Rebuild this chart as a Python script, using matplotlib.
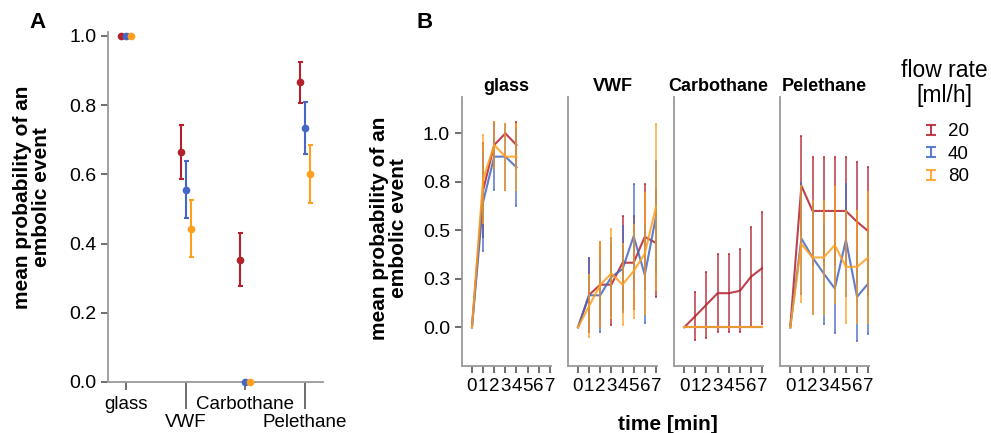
#!/usr/bin/env python3
"""
Embolic event probability by surface material and flow rate.
Panel A: overall mean per material, panel B: time course per material.
"""

import matplotlib
matplotlib.use('Agg')
import matplotlib.pyplot as plt
import numpy as np
from matplotlib.collections import LineCollection
from matplotlib.container import ErrorbarContainer
from matplotlib.legend_handler import HandlerErrorbar
from matplotlib.lines import Line2D

plt.rcParams['font.family'] = ['Liberation Sans', 'DejaVu Sans']

MATERIALS = ['glass', 'VWF', 'Carbothane', 'Pelethane']
FLOW_RATES = ['20', '40', '80']
COLORS = ['#B3212C', '#4466C4', '#FF9F1C']

# Panel A: mean probability and error bar half-width per material
A_MEAN_20 = [1.0, 0.664, 0.353, 0.866]
A_ERR_20 = [0.0, 0.079, 0.077, 0.059]
A_MEAN_40 = [1.0, 0.555, 0.0, 0.733]
A_ERR_40 = [0.0, 0.082, 0.0, 0.075]
A_MEAN_80 = [1.0, 0.443, 0.0, 0.600]
A_ERR_80 = [0.0, 0.083, 0.0, 0.084]

# Panel B: time course, minutes 0..7 (glass only measured to minute 4)
TIMES = [0, 1, 2, 3, 4, 5, 6, 7]

GLASS_MEAN_20 = [0.0, 0.706, 0.94, 1.0, 0.94]
GLASS_ERR_20 = [0.0, 0.242, 0.12, 0.0, 0.12]
GLASS_MEAN_40 = [0.0, 0.646, 0.88, 0.88, 0.825]
GLASS_ERR_40 = [0.0, 0.251, 0.17, 0.17, 0.20]
GLASS_MEAN_80 = [0.0, 0.763, 0.94, 0.88, 0.88]
GLASS_ERR_80 = [0.0, 0.227, 0.12, 0.17, 0.17]

VWF_MEAN_20 = [0.0, 0.167, 0.22, 0.22, 0.333, 0.333, 0.467, 0.435]
VWF_ERR_20 = [0.0, 0.19, 0.22, 0.21, 0.24, 0.24, 0.27, 0.28]
VWF_MEAN_40 = [0.0, 0.165, 0.165, 0.26, 0.30, 0.47, 0.27, 0.57]
VWF_ERR_40 = [0.0, 0.19, 0.19, 0.20, 0.22, 0.27, 0.25, 0.29]
VWF_MEAN_80 = [0.0, 0.11, 0.22, 0.277, 0.22, 0.29, 0.38, 0.62]
VWF_ERR_80 = [0.0, 0.16, 0.22, 0.23, 0.21, 0.24, 0.31, 0.43]

CARBO_MEAN_20 = [0.0, 0.058, 0.117, 0.176, 0.176, 0.188, 0.261, 0.305]
CARBO_ERR_20 = [0.0, 0.126, 0.17, 0.20, 0.20, 0.214, 0.258, 0.29]
CARBO_MEAN_40 = [0.0, 0.0, 0.0, 0.0, 0.0, 0.0, 0.0, 0.0]
CARBO_ERR_40 = [0.0, 0.0, 0.0, 0.0, 0.0, 0.0, 0.0, 0.0]
CARBO_MEAN_80 = [0.0, 0.0, 0.0, 0.0, 0.0, 0.0, 0.0, 0.0]
CARBO_ERR_80 = [0.0, 0.0, 0.0, 0.0, 0.0, 0.0, 0.0, 0.0]

PELE_MEAN_20 = [0.0, 0.73, 0.60, 0.60, 0.60, 0.60, 0.544, 0.496]
PELE_ERR_20 = [0.0, 0.255, 0.28, 0.28, 0.28, 0.28, 0.31, 0.33]
PELE_MEAN_40 = [0.0, 0.458, 0.36, 0.278, 0.20, 0.45, 0.157, 0.226]
PELE_ERR_40 = [0.0, 0.285, 0.29, 0.26, 0.23, 0.29, 0.23, 0.26]
PELE_MEAN_80 = [0.0, 0.43, 0.36, 0.36, 0.424, 0.312, 0.312, 0.36]
PELE_ERR_80 = [0.0, 0.30, 0.29, 0.29, 0.30, 0.29, 0.29, 0.34]

B_SERIES = {
    'glass': [(GLASS_MEAN_20, GLASS_ERR_20), (GLASS_MEAN_40, GLASS_ERR_40), (GLASS_MEAN_80, GLASS_ERR_80)],
    'VWF': [(VWF_MEAN_20, VWF_ERR_20), (VWF_MEAN_40, VWF_ERR_40), (VWF_MEAN_80, VWF_ERR_80)],
    'Carbothane': [(CARBO_MEAN_20, CARBO_ERR_20), (CARBO_MEAN_40, CARBO_ERR_40), (CARBO_MEAN_80, CARBO_ERR_80)],
    'Pelethane': [(PELE_MEAN_20, PELE_ERR_20), (PELE_MEAN_40, PELE_ERR_40), (PELE_MEAN_80, PELE_ERR_80)],
}

SPINE_COLOR = '#9a9a9a'
TICK_COLOR = '#555555'
YLABEL = 'mean probability of an\nembolic event'


def style_spines(ax):
    for side in ('top', 'right'):
        ax.spines[side].set_visible(False)
    for side in ('left', 'bottom'):
        ax.spines[side].set_color(SPINE_COLOR)
        ax.spines[side].set_linewidth(1.3)
    ax.tick_params(which='both', color=TICK_COLOR, width=1.2, labelsize=13.5)


def draw_panel_a(fig):
    ax = fig.add_axes([0.109, 0.1178, 0.217, 0.809])
    x = np.arange(len(MATERIALS))
    means = [A_MEAN_20, A_MEAN_40, A_MEAN_80]
    errs = [A_ERR_20, A_ERR_40, A_ERR_80]
    offsets = [-0.085, 0.0, 0.085]
    for mean, err, off, color in zip(means, errs, offsets, COLORS):
        ax.errorbar(x + off, mean, yerr=err, fmt='o', color=color, ms=4.5,
                    elinewidth=1.5, capsize=1.8, capthick=1.5, clip_on=False, zorder=3)

    ax.set_xlim(-0.3, 3.3)
    ax.set_ylim(0, 1.012)
    ax.set_yticks([0.0, 0.2, 0.4, 0.6, 0.8, 1.0])
    ax.set_yticklabels(['0.0', '0.2', '0.4', '0.6', '0.8', '1.0'])
    style_spines(ax)

    # labels alternate between two rows: even ones as major ticks, odd ones as long minor ticks
    ax.set_xticks(x[0::2])
    ax.set_xticklabels(MATERIALS[0::2])
    ax.set_xticks(x[1::2], minor=True)
    ax.set_xticklabels(MATERIALS[1::2], minor=True)
    ax.tick_params(axis='y', length=5, labelsize=14)
    ax.tick_params(axis='x', which='major', length=5.8, pad=4.0)
    ax.tick_params(axis='x', which='minor', length=19.4, pad=4.0)
    return ax


def draw_panel_b(fig):
    lefts = [0.4659, 0.5729, 0.6801, 0.7871]
    axes = []
    for idx, (left, material) in enumerate(zip(lefts, MATERIALS)):
        ax = fig.add_axes([left, 0.1554, 0.0901, 0.6217])
        for (mean, err), color in zip(B_SERIES[material], COLORS):
            t = TIMES[:len(mean)]
            ax.errorbar(t, mean, yerr=err, fmt='none', ecolor=color, elinewidth=1.4,
                        capsize=1.0, capthick=1.4, alpha=0.7)
            ax.plot(t, mean, color=color, lw=1.5, alpha=0.85)
        ax.set_xlim(-0.92, 7.1)
        ax.set_ylim(-0.198, 1.19)
        ax.set_xticks(TIMES)
        ax.set_xticklabels([str(t) for t in TIMES])
        style_spines(ax)
        ax.tick_params(axis='x', length=5, pad=4.0)
        if idx == 0:
            ax.set_yticks([0.0, 0.25, 0.5, 0.75, 1.0])
            ax.set_yticklabels(['0.0', '0.3', '0.5', '0.8', '1.0'])
            ax.tick_params(axis='y', length=5, labelsize=14)
        else:
            ax.set_yticks([])
        ax.set_title(material, fontsize=13, fontweight='bold', pad=4)
        axes.append(ax)
    return axes


def legend_handles():
    # errorbar-style legend keys ("I" shape) for each flow rate
    handles = []
    for color in COLORS:
        cap = Line2D([], [], color=color, marker='_', markersize=7, markeredgewidth=1.5,
                     linestyle='none', alpha=0.85)
        bar = LineCollection([], colors=color, linewidths=1.5, alpha=0.85)
        handles.append(ErrorbarContainer((None, (cap, cap), (bar,)), has_xerr=False, has_yerr=True))
    return handles


def main():
    fig = plt.figure(figsize=(9.91, 4.33), dpi=100)

    draw_panel_a(fig)
    draw_panel_b(fig)

    fig.text(32 / 991, 1 - 197 / 433, YLABEL, rotation=90, ha='center', va='center',
             fontsize=15, fontweight='bold', multialignment='center', linespacing=1.0)
    fig.text(389 / 991, 1 - 228 / 433, YLABEL, rotation=90, ha='center', va='center',
             fontsize=15, fontweight='bold', multialignment='center', linespacing=1.0)
    fig.text(668 / 991, 1 - 424 / 433, 'time [min]', ha='center', va='center',
             fontsize=15, fontweight='bold')
    fig.text(38 / 991, 1 - 22 / 433, 'A', ha='center', va='center', fontsize=16, fontweight='bold')
    fig.text(425 / 991, 1 - 22 / 433, 'B', ha='center', va='center', fontsize=16, fontweight='bold')

    fig.text(944 / 991, 1 - 83 / 433, 'flow rate\n[ml/h]', ha='center', va='center',
             fontsize=16.5, multialignment='center', linespacing=1.1)
    fig.legend(legend_handles(), FLOW_RATES, loc='upper center',
               bbox_to_anchor=(946 / 991, 1 - 114 / 433), frameon=False, fontsize=13.5,
               handlelength=0.8, handletextpad=0.5, labelspacing=0.28, borderpad=0,
               handler_map={ErrorbarContainer: HandlerErrorbar(yerr_size=0.27)})

    fig.savefig('out.png', dpi=100)


if __name__ == '__main__':
    main()
